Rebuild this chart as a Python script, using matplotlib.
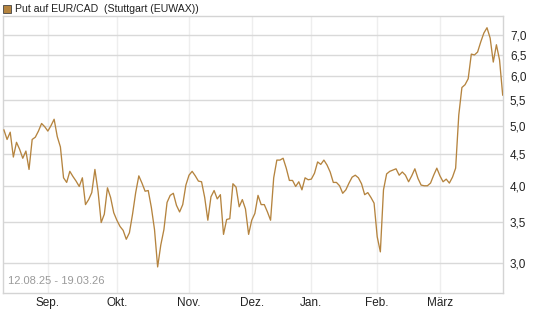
import matplotlib
matplotlib.use("Agg")
import matplotlib.pyplot as plt
from matplotlib.ticker import FixedLocator, FuncFormatter, NullLocator
from matplotlib.patches import Rectangle

plt.rcParams['font.family'] = ['Liberation Sans', 'DejaVu Sans']

# daily closing prices (trading days) 12.08.25 - 19.03.26
prices = [
    4.92, 4.75, 4.88, 4.45, 4.70, 4.58, 4.43, 4.55, 4.25, 4.75,
    4.79, 4.90, 5.04, 4.98, 4.90, 5.00, 5.12, 4.80, 4.62, 4.12,
    4.05, 4.22, 4.14, 4.07, 3.99, 4.12, 3.73, 3.80, 3.90, 4.25,
    3.92, 3.49, 3.60, 3.97, 3.83, 3.62, 3.52, 3.44, 3.39, 3.28,
    3.36, 3.60, 3.90, 4.15, 4.04, 3.92, 3.93, 3.69, 3.40, 2.96,
    3.21, 3.40, 3.76, 3.86, 3.89, 3.72, 3.63, 3.73, 4.01, 4.16,
    4.22, 4.15, 4.07, 4.06, 3.83, 3.52, 3.84, 3.93, 3.81, 3.87,
    3.34, 3.53, 3.54, 4.03, 3.98, 3.70, 3.80, 3.67, 3.34, 3.52,
    3.61, 3.86, 3.73, 3.73, 3.63, 3.52, 4.12, 4.40, 4.40, 4.43,
    4.27, 4.08, 4.08, 3.99, 4.06, 3.94, 4.12, 4.09, 4.10, 4.19,
    4.37, 4.33, 4.40, 4.32, 4.21, 4.05, 4.05, 4.00, 3.89, 3.94,
    4.04, 4.13, 4.16, 4.12, 4.03, 3.87, 3.90, 3.83, 3.75, 3.31,
    3.13, 3.94, 4.18, 4.22, 4.24, 4.26, 4.16, 4.21, 4.16, 4.06,
    4.15, 4.26, 4.11, 4.01, 4.00, 4.00, 4.04, 4.16, 4.27, 4.15,
    4.06, 4.10, 4.04, 4.13, 4.27, 5.20, 5.76, 5.82, 5.95, 6.52,
    6.50, 6.57, 6.82, 7.05, 7.19, 6.92, 6.33, 6.75, 6.38, 5.60,
]

months = ["Sep.", "Okt.", "Nov.", "Dez.", "Jan.", "Feb.", "März"]
month_idx = [14, 36, 59, 79, 98, 119, 139]  # first trading day of month
y_ticks = [3.0, 3.5, 4.0, 4.5, 5.0, 5.5, 6.0, 6.5, 7.0]

line_color = "#b5843f"

fig = plt.figure(figsize=(5.45, 3.27), dpi=100)
ax = fig.add_axes([3 / 545, 34 / 327, 500 / 545, 277 / 327])

x = list(range(len(prices)))
ax.plot(x, prices, color=line_color, lw=0.95, zorder=3)

ax.set_yscale("log")
ax.set_ylim(2.687, 7.51)
ax.set_xlim(-0.3, len(prices) - 1 + 0.1)

ax.yaxis.set_major_locator(FixedLocator(y_ticks))
ax.yaxis.set_minor_locator(NullLocator())
ax.yaxis.set_major_formatter(FuncFormatter(lambda v, p: f"{v:.1f}".replace(".", ",")))
ax.yaxis.tick_right()
ax.tick_params(axis="y", length=0, pad=5, labelsize=8.5, colors="#222222")

ax.set_xticks(month_idx)
ax.set_xticklabels(months)
ax.xaxis.set_minor_locator(NullLocator())
ax.tick_params(axis="x", length=0, pad=3, labelsize=8.5, colors="#222222")

ax.grid(axis="y", color="#d9d9d9", lw=1.0)
ax.grid(axis="x", color="#eeeeee", lw=1.0)
ax.set_axisbelow(True)
for s in ax.spines.values():
    s.set_color("#d4d4d4")
    s.set_linewidth(1.0)

ax.text(0.01, 0.025, "12.08.25 - 19.03.26", transform=ax.transAxes,
        fontsize=8, color="#9a9a9a", ha="left", va="bottom")

# title with colour square
fig.patches.append(Rectangle((3 / 545, 1 - 13 / 327), 8 / 545, 8 / 327,
                             transform=fig.transFigure, facecolor=line_color,
                             edgecolor="#444444", lw=0.6))
fig.text(15 / 545, 1 - 9 / 327, "Put auf EUR/CAD  (Stuttgart (EUWAX))",
         fontsize=7.6, color="#222222", ha="left", va="center")

fig.savefig("out.png", dpi=100)
